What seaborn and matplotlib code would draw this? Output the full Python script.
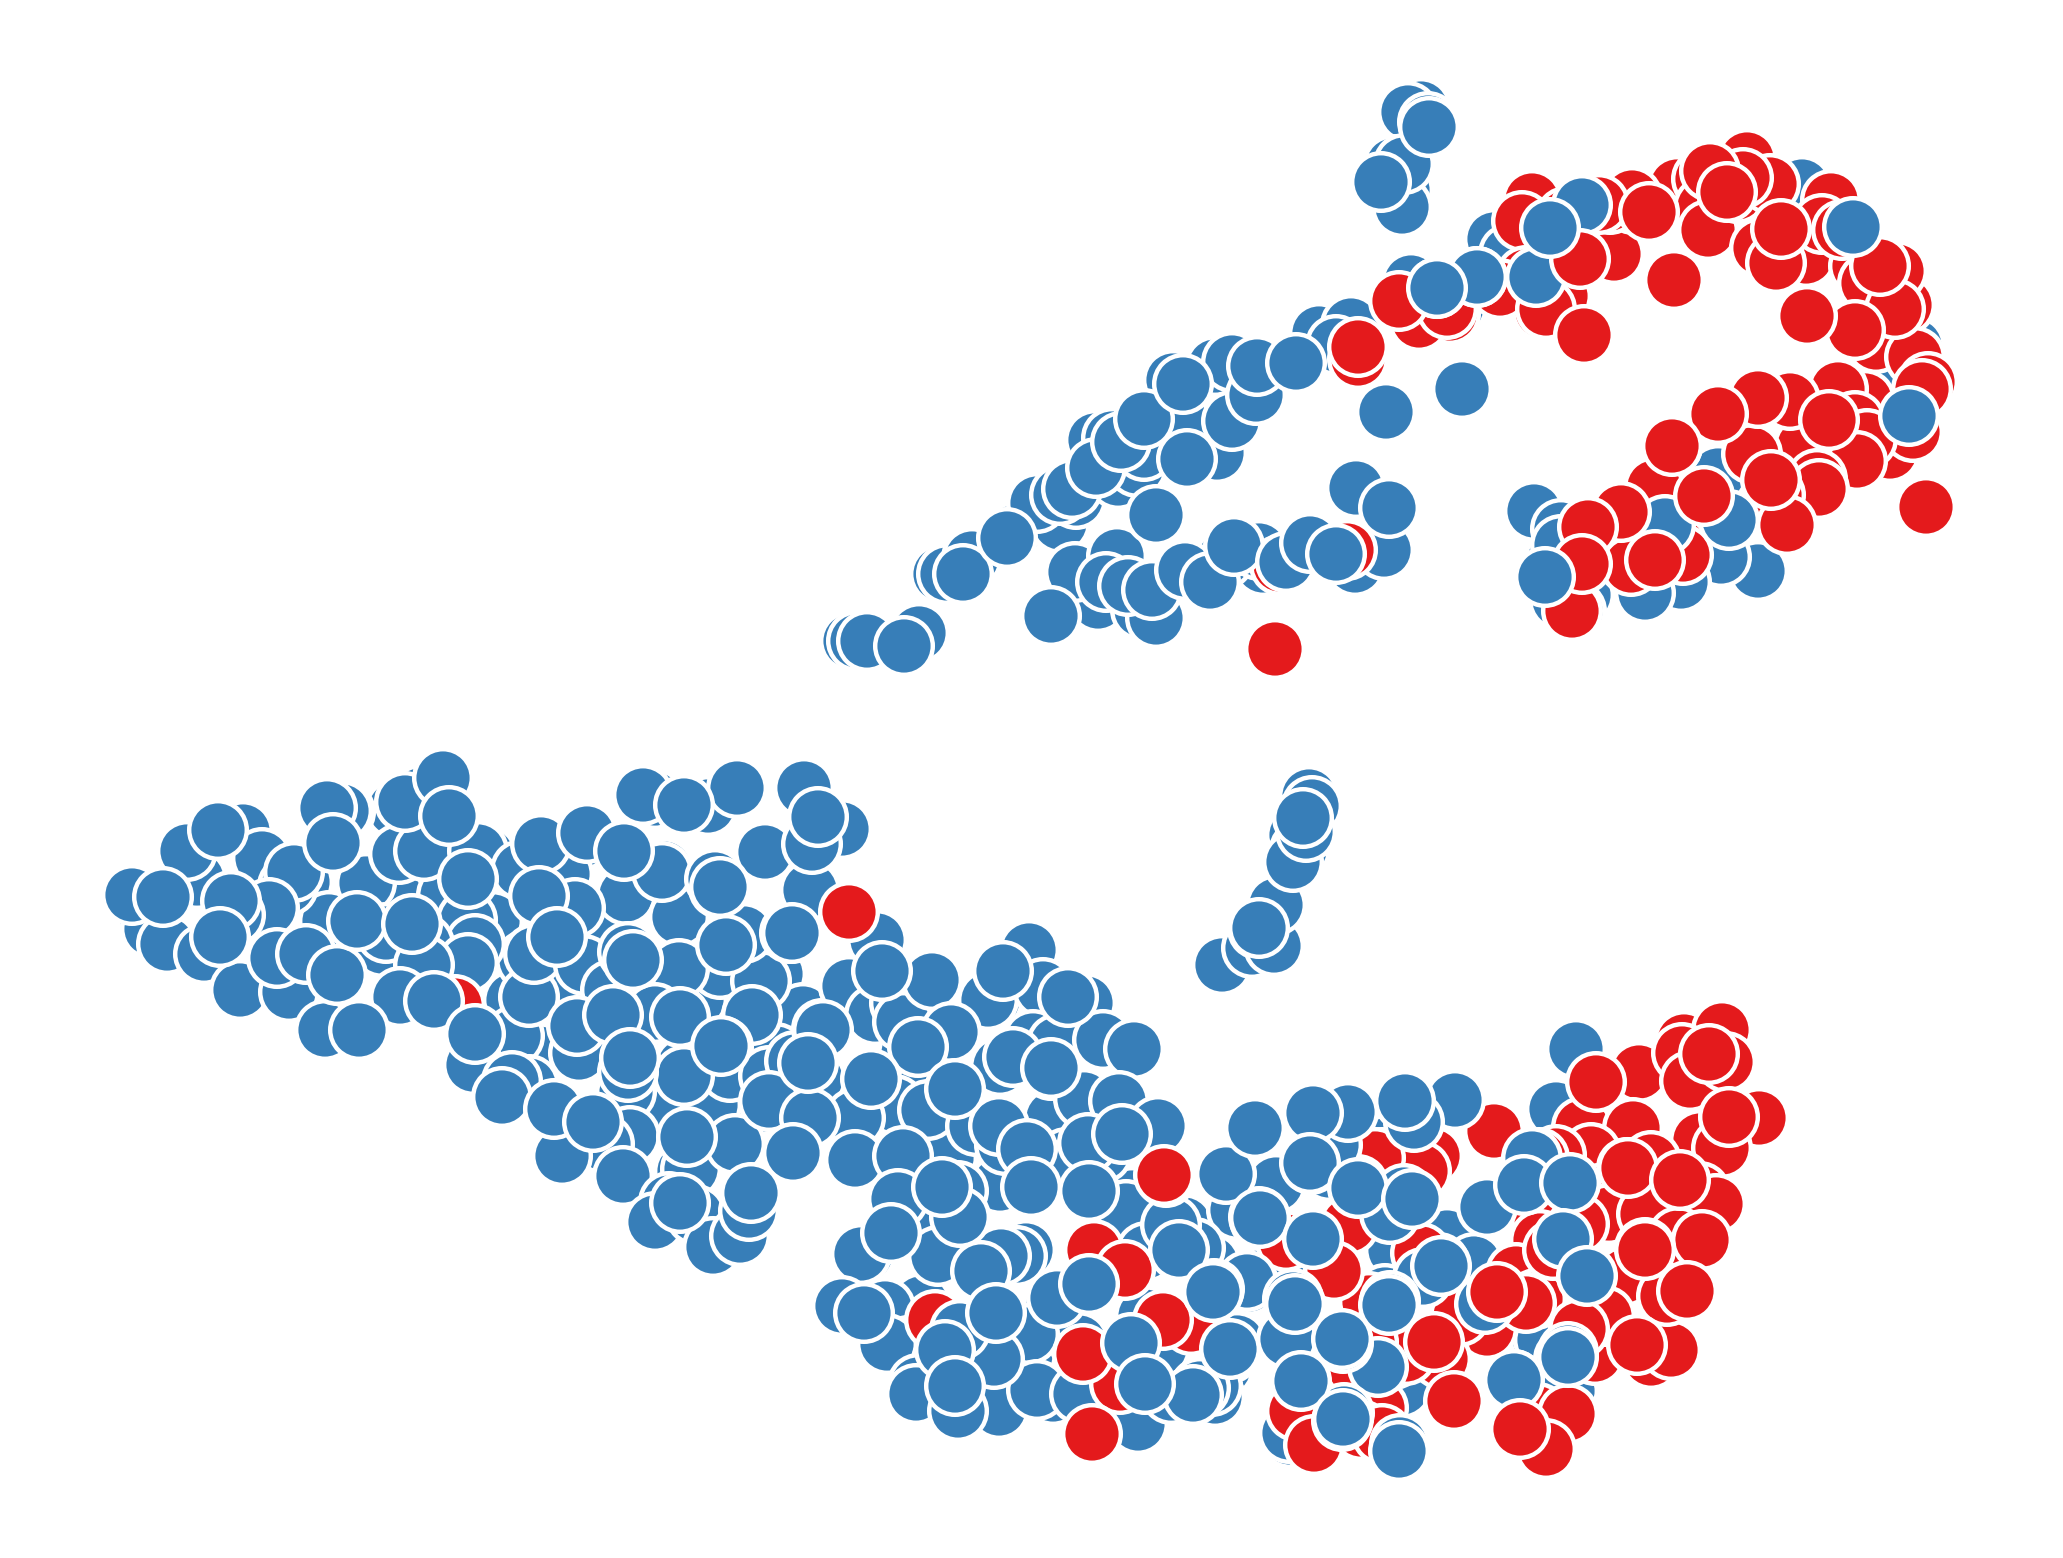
import pandas as pd
import matplotlib
matplotlib.use("Agg")
import matplotlib.pyplot as plt
import seaborn as sns

# Puntos, en orden de dibujo (capas de atras hacia adelante)
blue_fill = [
    (271,908),(236,912),(368,879),(399,855),(520,875),(562,868),(625,895),(664,868),(680,917),(793,931),
    (766,849),(810,888),(842,829),(654,795),(737,789),(418,793),(395,809),(345,812),(632,1053),(629,1092),
    (605,1000),(653,1013),(724,967),(753,1013),(822,1026),(842,1000),(899,1000),(933,980),(951,1033),
    (993,1000),(1039,980),(1085,1000),(1039,1039),(1105,1039),(1134,1049),(1026,1053),(1118,1099),
    (1092,1145),(1000,1131),(974,1125),(908,1158),(855,1118),(855,1158),(809,1118),(737,1145),(684,1171),
    (625,1171),(263,868),(303,882),(329,921),(382,947),(434,947),(395,895),(447,895),(487,855),(493,921),
    (579,842),(592,921),(566,974),(513,1000),(539,1053),(579,1053),(526,960),(671,974),(697,1000),(776,974),
    (803,1013),(776,1053),(763,1105),(816,1079),(684,1066),(658,1118),(711,1105),(908,1053),(921,1092),
    (1000,1066),(895,1105),(1053,1118),(1013,1158),(947,1158),(1066,1158),
    (921,1210),(1000,1184),(1053,1171),(1132,1197),(1184,1224),(1237,1210),(1276,1184),(1329,1171),
    (1382,1210),(1316,1263),(1263,1276),(1211,1263),(1158,1250),(1026,1250),(1053,1303),(1000,1329),
    (921,1303),(1026,1355),(1079,1342),(1145,1316),(1184,1329),(1237,1342),(1224,1368),(1053,1395),
    (1000,1382),(1395,1250),(1447,1237),(1474,1263),(1395,1342),(1368,1395),(1513,1382),(1540,1342),
    (1263,566),(1224,559),
]

blue_back = [
    # rama superior
    (1421,108),(1408,112),(1404,207),(1393,165),(1403,190),
    (850,641),(857,641),(919,633),(940,574),(947,574),(972,558),(1014,532),
    (1045,515),(1060,523),(1037,503),(1076,499),(1060,495),(1118,479),(1137,467),
    (1144,451),(1095,440),(1112,438),(1217,453),(1183,424),(1173,380),(1215,366),(1232,362),
    (1319,333),(1351,325),(1336,345),(1386,412),(1462,389),
    (1098,602),(1141,610),(1156,618),(1075,572),(1117,556),(1259,550),(1355,566),(1356,488),(1384,550),
    (1411,282),(1494,239),(1509,254),(1457,307),(1783,186),(1802,186),(1783,261),(1915,346),
    (1892,396),(1806,407),(1718,475),(1758,571),(1721,557),(1681,582),(1645,593),(1584,595),
    (1576,611),(1534,511),(1561,529),(1545,577),(1559,600),(1668,514),(1649,525),
    # grupo inferior izquierdo
    (144,911),(151,929),(167,944),(197,879),(187,851),(243,831),(262,858),(288,886),(294,872),
    (269,908),(235,915),(231,901),(204,954),(240,990),(289,992),(277,958),(306,954),(366,883),
    (342,811),(327,808),(399,854),(424,851),(420,795),(405,802),(443,778),(478,851),(467,920),
    (475,944),(424,944),(386,933),(468,963),(424,965),(400,997),(325,1030),(359,1030),(514,1036),
    (473,1065),(529,997),(534,954),(563,874),(521,870),(541,844),(587,833),(626,895),(575,908),
    (584,965),(611,990),(628,952),(679,917),(662,872),(655,799),(643,795),(708,806),(737,788),
    (719,888),(715,879),(720,969),(761,981),(744,933),(679,969),(655,1013),(577,1026),(613,1015),
    (752,1015),(723,1047),(730,1072),(684,1076),(769,1076),(795,1061),(822,1029),(849,986),
    (790,933),(810,890),(765,852),(812,844),(804,788),(529,1085),(512,1081),(502,1097),
    (626,1092),(628,1072),(630,1058),(630,1136),(604,1144),(562,1156),(623,1176),(691,1169),
    (735,1144),(669,1202),(655,1222),(696,1215),(713,1247),(740,1236),(749,1211),(793,1154),
    (810,1119),(769,1101),(856,1160),(866,1254),
    # centro
    (792,933),(877,940),(849,986),(875,1015),(900,1003),(903,1022),(932,980),(1029,950),(1001,971),
    (988,1000),(1043,988),(1086,1003),(951,1032),(823,1030),(918,1047),(1033,1040),(1057,1044),
    (1051,1070),(1103,1040),(1134,1049),(1013,1057),(928,1110),(855,1118),(810,1118),(793,1153),
    (855,1160),(903,1156),(976,1126),(1005,1145),(999,1126),(1027,1149),(1084,1099),(1119,1101),
    (1158,1126),(1102,1153),(1088,1143),(1222,965),(1252,948),(1258,929),(1274,946),(1276,905),
    (1296,835),(1300,850),(1293,862),(1309,796),(1312,806),(1306,832),
    (958,1191),(898,1199),(1090,1192),(1126,1210),(861,1254),(938,1256),(1017,1256),(1001,1256),
    (1179,1250),(1195,1248),(1146,1252),(1171,1225),(842,1306),(885,1308),(908,1346),(887,1344),
    (1029,1334),(1057,1298),(942,1361),(918,1384),(916,1394),(999,1409),(958,1411),(1037,1390),
    (994,1359),(1146,1386),(1213,1392),(1215,1397),(1230,1353),(1128,1417),(1138,1424),(1080,1394),
    (1171,1394),(1160,1348),(1288,1340),(1377,1373),(1290,1438),(1387,1306),(1347,1112),(1334,1145),
    (1311,1164),(1359,1187),(1260,1220),(1249,1285),(1385,1210),(1385,1145),(1385,1294),(1405,1101),
    (1576,1049),(1556,1109),(1532,1158),(1544,1340),(1564,1359),(1514,1380),(1568,1391),
    (1289,1433),(1212,1386),(1200,1388),(1402,1388),(1439,1263),(1423,1278),
]

red_mid = [
    (1532,200),(1522,221),(1614,254),(1530,286),(1542,311),(1584,335),(1561,296),(1404,304),(1450,314),
    (1419,321),(1633,204),(1610,204),(1677,186),(1702,179),(1747,159),(1704,207),(1708,230),(1737,193),
    (1777,237),(1773,241),(1760,248),(1831,200),(1806,257),(1859,266),(1890,289),(1905,305),(1897,271),
    (1807,316),(1876,343),(1915,357),(1928,382),(1922,389),(1865,400),(1838,389),(1855,421),(1804,446),
    (1758,398),(1790,400),(1718,414),(1672,446),(1890,452),(1913,432),(1867,439),(1857,461),(1817,479),
    (1819,489),(1752,454),(1775,495),(1767,504),(1787,525),(1654,487),(1622,537),(1626,561),(1679,546),
    (1683,555),(1653,543),(1572,611),(1358,359),(1347,550),(1280,565),
    (1770,184),(1822,224),(1743,178),(1710,171),(1632,197),(1599,204),(1566,217),(1526,276),(1500,289),
    (1447,309),(1546,309),(1868,283),(1895,309),(1842,230),(1776,263),
    (1639,1072),(1684,1041),(1722,1030),(1682,1053),(1690,1081),(1726,1062),(1759,1118),(1700,1140),
    (1722,1148),(1494,1131),(1603,1122),(1582,1127),(1633,1128),(1591,1153),(1627,1168),(1651,1161),
    (1700,1192),(1716,1204),(1599,1194),(1609,1214),(1647,1214),(1678,1237),(1702,1240),(1645,1248),
    (1625,1276),(1556,1155),(1540,1214),(1540,1240),(1516,1273),(1536,1299),(1584,1331),(1615,1332),
    (1635,1342),(1651,1359),(1671,1350),(1595,1355),(1667,1296),(1538,1413),(1568,1414),(1546,1449),
    (1453,1331),(1487,1329),(1441,1359),(1433,1156),(1382,1158),(1421,1253),(1334,1266),(1297,1405),
    (1315,1439),(1362,1424),(1378,1408),(1394,1359),(1406,1355),(1369,1302),(1296,1411),(1314,1445),
    (1361,1430),(1349,1225),(1286,1241),(1334,1271),(1191,1325),(1120,1384),(1166,1177),(1094,1250),
    (935,1320),(455,1005),
    (1539,1158),(1553,1250),(1526,1303),(1460,1316),(1434,1342),(1421,1171),(1375,1158),(1579,1224),
    (1605,1316),(1579,1329),(1368,1342),(1382,1434),(1342,1421),(1355,1368),
]

blue_mid = [
    (1582,205),(1437,288),(1477,277),(1536,277),(1402,207),(1404,164),
    (1729,520),(1554,560),(1665,525),(1561,545),
    (960,1330),(945,1350),
    (1568,1352),(1514,1380),(1485,1304),(1423,1278),(1390,1301),(1358,1185),(1404,1194),(1390,1214),
    (1332,1145),(1348,1112),(1313,1113),(1455,1100),(1414,1122),(1259,1217),(1247,1281),(1214,1289),
    (1293,1299),(1230,1349),(1287,1339),(1378,1367),(1344,1413),(1400,1444),(1532,1158),
]

red_top = [
    (1358,347),(1399,301),(1580,259),(1649,212),(1727,192),(1781,229),(1880,266),(1855,330),(1829,420),
    (1758,398),(1718,414),(1672,446),(1771,480),(1704,496),(1631,566),(1655,560),(1621,512),(1588,527),
    (1582,564),(1275,649),(1926,507),(1674,280),(1584,335),(1807,316),
    (1596,1082),(1709,1054),(1729,1117),(1628,1168),(1680,1180),(1645,1250),(1687,1291),(1637,1345),
    (1497,1292),(1520,1429),(1454,1401),(1083,1354),(1163,1320),(1125,1270),(1164,1175),(1092,1434),
    (849,912),
]

blue_top = [
    (1428,122),(1381,182),(1429,127),(1550,228),(1477,277),(1437,288),(1853,227),(1909,416),(1545,577),
    (867,641),(904,646),(963,574),(1007,538),(1051,616),(1072,489),(1096,468),(1121,442),(1144,419),
    (1187,459),(1232,421),(1256,395),(1257,366),(1183,384),(1296,363),(1156,515),(1106,582),(1128,586),
    (1152,590),(1185,570),(1210,582),(1234,546),(1286,562),(1310,543),(1336,554),(1389,508),
    (1303,818),(1259,928),
    (132,895),(163,897),(220,937),(218,830),(333,843),(337,975),(357,921),(412,924),(449,816),(468,879),
    (539,896),(557,937),(434,1001),(475,1034),(624,851),(633,960),(680,1017),(726,945),(720,887),(684,805),
    (818,817),(554,1109),(593,1122),(680,1203),(751,1193),(687,1137),(721,1046),(808,1063),(871,1079),
    (882,971),(955,1089),(1003,971),(1051,1068),(1068,997),(1122,1134),(1089,1191),(1031,1187),(960,1217),
    (942,1187),(891,1233),(981,1271),(864,1313),(996,1313),(955,1386),(1131,1343),(1089,1284),(1179,1250),
    (1226,1174),(1260,1218),(1213,1292),(1310,1163),(1358,1188),(1313,1239),(1412,1199),(1441,1266),
    (1389,1305),(1295,1304),(1343,1343),(1301,1381),(1487,1207),(1524,1185),(1570,1183),(1563,1239),
    (1587,1276),(1568,1357),(1193,1395),(1145,1384),(1405,1101),(1255,1128),(1343,1419),(1399,1451),
    (1342,1339),
]

layers = [
    ("blue", blue_fill),
    ("blue", blue_back),
    ("red", red_mid),
    ("blue", blue_mid),
    ("red", red_top),
    ("blue", blue_top),
]
colores = {"blue": "#377EB8", "red": "#E41A1C"}

rows = []
for grupo, puntos in layers:
    for x, y in puntos:
        rows.append({"x": x, "y": y, "grupo": grupo})
df = pd.DataFrame(rows)

sns.set_theme(style="white")
fig = plt.figure(figsize=(20.63, 15.58), dpi=100)
ax = fig.add_axes([0, 0, 1, 1])
sns.scatterplot(data=df, x="x", y="y", hue="grupo", palette=colores, s=1720,
                edgecolor="white", linewidth=3.2, legend=False, ax=ax)
ax.set_xlim(0, 2063)
ax.set_ylim(1558, 0)
ax.set_axis_off()
fig.savefig("out.png", dpi=100, facecolor="white")
